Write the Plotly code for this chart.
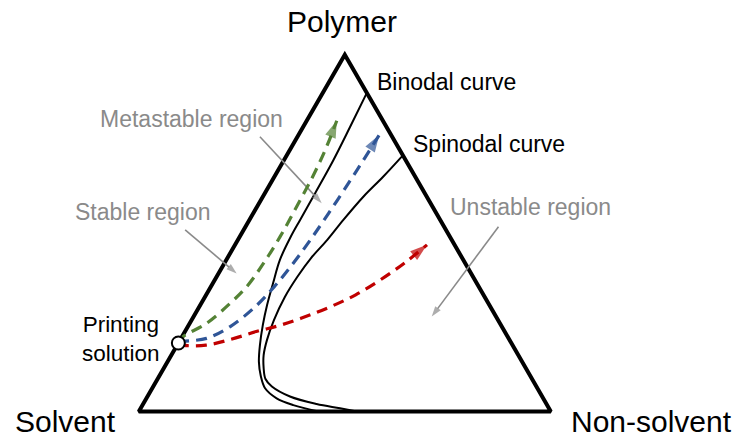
import math
import plotly.graph_objects as go

W, H = 737, 437

# Compositions in percent: polymer (top corner) and non-solvent (bottom-right
# corner); the solvent share is whatever remains to 100.
binodal_polymer = [89.3, 79.8, 70.5, 61.2, 53.7, 48.9, 42.5, 36.0, 29.9, 24.2,
                   18.6, 13.9, 10.0, 6.5, 3.7, 1.8, 0.0]
binodal_nonsolvent = [10.7, 11.4, 12.0, 12.2, 12.3, 12.4, 13.0, 14.6, 16.2, 18.0,
                      20.1, 22.2, 24.6, 27.4, 31.6, 36.6, 43.6]

spinodal_polymer = [71.8, 65.8, 60.2, 53.7, 48.1, 43.0, 37.7, 32.1, 25.6, 20.0,
                    15.8, 12.2, 9.1, 7.0, 4.2, 2.1, 0.9, 0.0]
spinodal_nonsolvent = [28.2, 26.4, 24.4, 22.8, 21.7, 20.3, 19.6, 19.4, 20.0, 21.1,
                       22.4, 24.2, 26.2, 28.8, 34.6, 42.1, 48.4, 52.9]

# Printing solution: polymer + solvent only
start_polymer, start_nonsolvent = 19.2, 0.0

green_polymer = [19.2, 21.0, 24.7, 30.3, 35.0, 41.5, 49.0, 57.4, 65.8, 73.3, 81.5]
green_nonsolvent = [0.0, 0.3, 4.1, 7.0, 8.7, 9.5, 9.8, 9.6, 9.3, 8.6, 7.3]

blue_polymer = [19.2, 19.6, 20.5, 23.8, 29.4, 35.0, 41.5, 48.1, 55.6, 64.0, 70.5, 77.5]
blue_nonsolvent = [0.0, 1.0, 6.2, 10.3, 13.6, 15.4, 16.7, 17.6, 18.3, 18.9, 19.3, 19.6]

red_polymer = [19.2, 18.6, 18.6, 20.2, 22.4, 24.2, 26.6, 29.4, 32.7, 36.9, 41.5, 46.7]
red_nonsolvent = [0.0, 1.5, 7.0, 12.2, 17.3, 22.3, 27.2, 31.9, 36.3, 40.2, 43.6, 46.6]

# Pointer arrows for the region labels (tail, head)
metastable_polymer, metastable_nonsolvent = [77.0, 58.4], [-9.1, 15.2]
stable_polymer, stable_nonsolvent = [50.9, 38.7], [-14.2, 4.4]
unstable_polymer, unstable_nonsolvent = [51.8, 26.6], [61.4, 57.8]

# Triangle corners: Solvent, Non-solvent, Polymer (bottom edge repeated for a clean join)
frame_polymer = [0, 0, 100, 0, 0]
frame_nonsolvent = [0, 100, 0, 0, 100]

SIN60 = math.sqrt(3) / 2


def to_xy(polymer, nonsolvent):
    x = [c + a / 2 for a, c in zip(polymer, nonsolvent)]
    y = [a * SIN60 for a in polymer]
    return x, y


fig = go.Figure()


def add_line(polymer, nonsolvent, color, width, dash="solid", head=0, smooth=True):
    x, y = to_xy(polymer, nonsolvent)
    line = dict(color=color, width=width, dash=dash)
    if smooth:
        line.update(shape="spline", smoothing=1)
    if head:
        fig.add_trace(go.Scatter(
            x=x, y=y, mode="lines+markers", line=line,
            marker=dict(symbol="arrow", size=[0] * (len(x) - 1) + [head],
                        angleref="previous", color=color, line=dict(width=0)),
            hoverinfo="skip", showlegend=False))
    else:
        fig.add_trace(go.Scatter(x=x, y=y, mode="lines", line=line,
                                 hoverinfo="skip", showlegend=False))


add_line(frame_polymer, frame_nonsolvent, "black", 4, smooth=False)
add_line(binodal_polymer, binodal_nonsolvent, "black", 2)
add_line(spinodal_polymer, spinodal_nonsolvent, "black", 2)

GREY = "#8a8a8a"
add_line(metastable_polymer, metastable_nonsolvent, GREY, 1.6, head=11, smooth=False)
add_line(stable_polymer, stable_nonsolvent, GREY, 1.6, head=11, smooth=False)
add_line(unstable_polymer, unstable_nonsolvent, GREY, 1.6, head=11, smooth=False)

DASH = "11px,7px"
add_line(green_polymer, green_nonsolvent, "#548235", 3.2, dash=DASH, head=18)
add_line(blue_polymer, blue_nonsolvent, "#2F5597", 3.2, dash=DASH, head=18)
add_line(red_polymer, red_nonsolvent, "#C00000", 3.2, dash=DASH, head=18)

sx, sy = to_xy([start_polymer], [start_nonsolvent])
fig.add_trace(go.Scatter(x=sx, y=sy, mode="markers",
                         marker=dict(size=13, color="white",
                                     line=dict(color="black", width=2)),
                         hoverinfo="skip", showlegend=False))

FONT = "Liberation Sans, Arial, sans-serif"


def label(text, x, y, size, color="black", anchor="center"):
    fig.add_annotation(text=text, x=x / W, y=1 - y / H, xref="paper", yref="paper",
                       xanchor=anchor, yanchor="middle", showarrow=False,
                       font=dict(family=FONT, size=size, color=color))


label("Polymer", 342, 21.5, 30)
label("Solvent", 65, 421.5, 30)
label("Non-solvent", 651, 421.5, 30)
label("Binodal curve", 375, 81.5, 23, anchor="left")
label("Spinodal curve", 410.5, 143.7, 23, anchor="left")
label("Metastable region", 191, 118.7, 23, GREY)
label("Stable region", 142.5, 212, 23, GREY)
label("Unstable region", 530, 207, 23, GREY)
label("Printing<br>solution", 121, 338.5, 22.5)

# 4.12 px per composition percent, origin at the Solvent corner
K, X0, Y0 = 4.12, 138.8, 411.5
fig.update_layout(
    width=W, height=H, margin=dict(l=0, r=0, t=0, b=0),
    paper_bgcolor="white", plot_bgcolor="white",
    xaxis=dict(range=[-X0 / K, (W - X0) / K], visible=False, fixedrange=True),
    yaxis=dict(range=[-(H - Y0) / K, Y0 / K], visible=False, fixedrange=True),
)

fig.write_html("out.html")
